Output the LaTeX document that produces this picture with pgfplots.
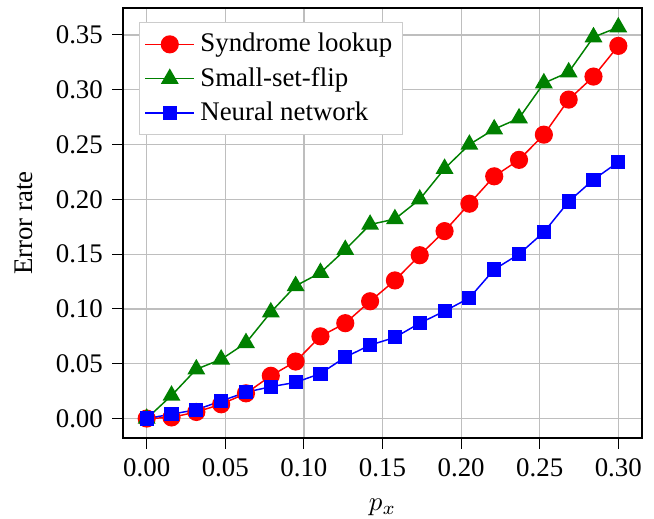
\documentclass[border=0pt]{standalone}
\usepackage{fontspec}
\setmainfont{Liberation Serif}
\usepackage{pgfplots}
\pgfplotsset{compat=1.18}

\definecolor{mplred}{rgb}{1,0,0}
\definecolor{mplgreen}{rgb}{0,0.5,0}
\definecolor{mplblue}{rgb}{0,0,1}
\definecolor{gridgray}{RGB}{190,190,190}
\definecolor{leggray}{RGB}{204,204,204}

\begin{document}
\begin{tikzpicture}
  \path[use as bounding box] (-45.8pt,-29.8pt) rectangle (197.5pt,163pt);
  \begin{axis}[
      scale only axis,
      width=193pt, height=160pt,
      xmin=-0.015, xmax=0.315,
      ymin=-0.0179, ymax=0.3745,
      xtick={0,0.05,...,0.30},
      ytick={0,0.05,...,0.35},
      xticklabel style={/pgf/number format/.cd,fixed,fixed zerofill,precision=2},
      yticklabel style={/pgf/number format/.cd,fixed,fixed zerofill,precision=2},
      /pgf/number format/assume math mode=true,
      tick pos=left, tick align=outside,
      major tick length=4pt,
      tick style={black, line width=0.4pt},
      grid=major,
      grid style={gridgray, line width=0.45pt},
      axis line style={black, line width=0.5pt},
      xlabel={$p_x$}, ylabel={Error rate},
      xlabel style={yshift=-1.5pt},
      ylabel style={yshift=1.8pt},
      legend cell align=left,
      legend style={at={(0.031,0.967)}, anchor=north west,
        draw=leggray, line width=0.4pt, inner sep=1.8pt,
        row sep=0.3pt, font=\normalsize},
      legend image code/.code={
        \draw[mark repeat=2,mark phase=2] plot coordinates {(0cm,0cm) (0.32cm,0cm) (0.64cm,0cm)};},
    ]
    \addplot[mplred, line width=0.55pt, mark=*, mark size=3.1pt, mark options={solid, fill=mplred, draw=mplred}] coordinates {
      (0.000000,0.000) (0.015789,0.001) (0.031579,0.006) (0.047368,0.013)
      (0.063158,0.023) (0.078947,0.039) (0.094737,0.052) (0.110526,0.075)
      (0.126316,0.087) (0.142105,0.107) (0.157895,0.126) (0.173684,0.149)
      (0.189474,0.171) (0.205263,0.196) (0.221053,0.221) (0.236842,0.236)
      (0.252632,0.259) (0.268421,0.291) (0.284211,0.312) (0.300000,0.340)};
    \addlegendentry{Syndrome lookup}
    \addplot[mplgreen, line width=0.55pt, mark=triangle*, mark size=3.3pt, mark options={solid, fill=mplgreen, draw=mplgreen}] coordinates {
      (0.000000,0.000) (0.015789,0.021) (0.031579,0.045) (0.047368,0.054)
      (0.063158,0.069) (0.078947,0.097) (0.094737,0.121) (0.110526,0.133)
      (0.126316,0.154) (0.142105,0.177) (0.157895,0.182) (0.173684,0.200)
      (0.189474,0.228) (0.205263,0.250) (0.221053,0.264) (0.236842,0.274)
      (0.252632,0.306) (0.268421,0.316) (0.284211,0.348) (0.300000,0.357)};
    \addlegendentry{Small-set-flip}
    \addplot[mplblue, line width=0.55pt, mark=square*, mark size=2.35pt, mark options={solid, fill=mplblue, draw=mplblue}] coordinates {
      (0.000000,0.000) (0.015789,0.004) (0.031579,0.008) (0.047368,0.016)
      (0.063158,0.024) (0.078947,0.029) (0.094737,0.033) (0.110526,0.041)
      (0.126316,0.056) (0.142105,0.067) (0.157895,0.074) (0.173684,0.087)
      (0.189474,0.098) (0.205263,0.110) (0.221053,0.136) (0.236842,0.150)
      (0.252632,0.170) (0.268421,0.198) (0.284211,0.218) (0.300000,0.234)};
    \addlegendentry{Neural network}
  \end{axis}
\end{tikzpicture}
\end{document}
